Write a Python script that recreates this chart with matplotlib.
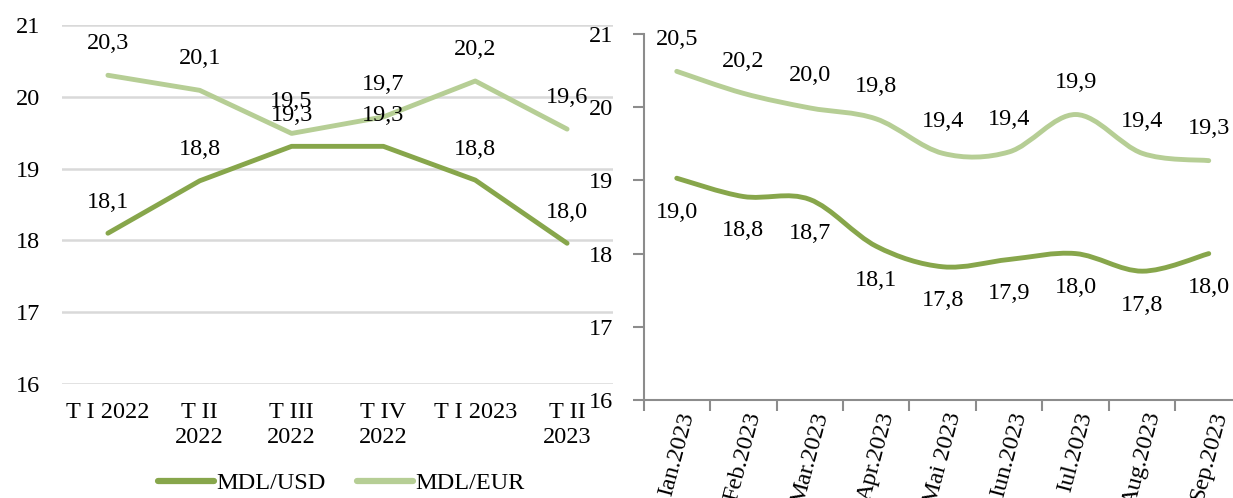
import numpy as np
import matplotlib
matplotlib.use("Agg")
import matplotlib.pyplot as plt
from matplotlib.path import Path
from matplotlib.patches import PathPatch
from matplotlib.lines import Line2D

plt.rcParams['font.family'] = ['Liberation Serif', 'DejaVu Serif']

# quarterly data (left panel)
quarters = ['T I 2022', 'T II\n2022', 'T III\n2022', 'T IV\n2022', 'T I 2023', 'T II\n2023']
usd_q = [18.1, 18.83, 19.31, 19.31, 18.84, 17.96]
eur_q = [20.3, 20.09, 19.49, 19.72, 20.22, 19.55]

# monthly data (right panel)
months = ['Ian.2023', 'Feb.2023', 'Mar.2023', 'Apr.2023', 'Mai 2023',
          'Iun.2023', 'Iul.2023', 'Aug.2023', 'Sep.2023']
usd_m = [19.03, 18.78, 18.74, 18.1, 17.82, 17.92, 18.0, 17.76, 18.0]
eur_m = [20.49, 20.19, 19.99, 19.84, 19.37, 19.39, 19.9, 19.37, 19.27]

C_USD = '#87A64B'
C_EUR = '#B6CE95'
GRID = '#D9D9D9'
AXC = '#8C8C8C'
FS = 17.5

fig = plt.figure(figsize=(12.33, 4.98), dpi=100)


def fmt(v):
    return f'{v:.1f}'.replace('.', ',')


def smooth_path(xs, ys):
    # Excel-like smoothed line through the points (cubic Bezier segments)
    pts = np.column_stack([xs, ys]).astype(float)
    n = len(pts)
    verts = [pts[0]]
    codes = [Path.MOVETO]
    for i in range(n - 1):
        p0 = pts[i - 1] if i > 0 else pts[i]
        p1 = pts[i]
        p2 = pts[i + 1]
        p3 = pts[i + 2] if i + 2 < n else pts[i + 1]
        c1 = p1 + (p2 - p0) / 6.0
        c2 = p2 - (p3 - p1) / 6.0
        verts += [c1, c2, p2]
        codes += [Path.CURVE4] * 3
    return Path(verts, codes)


# ---- left panel ----
ax1 = fig.add_axes([62 / 1233, 1 - 384 / 498, 551 / 1233, 359 / 498])
x = np.arange(len(quarters))
ax1.plot(x, usd_q, color=C_USD, lw=3.5, solid_capstyle='round')
ax1.plot(x, eur_q, color=C_EUR, lw=3.5, solid_capstyle='round')
for xi, v in zip(x, usd_q):
    ax1.annotate(fmt(v), (xi, v), xytext=(0, 31), textcoords='offset pixels',
                 ha='center', va='center', fontsize=FS)
for xi, v in zip(x, eur_q):
    ax1.annotate(fmt(v), (xi, v), xytext=(0, 32), textcoords='offset pixels',
                 ha='center', va='center', fontsize=FS)
ax1.set_xlim(-0.5, len(quarters) - 0.5)
ax1.set_ylim(16, 21)
ax1.set_yticks(range(16, 22))
ax1.set_xticks(x)
ax1.set_xticklabels(quarters, fontsize=FS, linespacing=1.25)
ax1.tick_params(axis='y', length=0, pad=16, labelsize=FS)
ax1.tick_params(axis='x', length=0, pad=13)
ax1.grid(axis='y', color=GRID, lw=1.8)
ax1.set_axisbelow(True)
for s in ax1.spines.values():
    s.set_visible(False)

# legend
handles = [Line2D([], [], color=C_USD, lw=4.5, solid_capstyle='round'),
           Line2D([], [], color=C_EUR, lw=4.5, solid_capstyle='round')]
fig.legend(handles, ['MDL/USD', 'MDL/EUR'], loc='center', bbox_to_anchor=(0.277, 0.03),
           ncol=2, frameon=False, fontsize=FS, handlelength=2.3, handletextpad=0.1,
           columnspacing=1.3, borderpad=0)

# ---- right panel ----
ax2 = fig.add_axes([643.5 / 1233, 1 - 400 / 498, 598.5 / 1233, 366 / 498])
xm = np.arange(len(months))
ax2.add_patch(PathPatch(smooth_path(xm, usd_m), facecolor='none', edgecolor=C_USD,
                        lw=3.5, capstyle='round'))
ax2.add_patch(PathPatch(smooth_path(xm, eur_m), facecolor='none', edgecolor=C_EUR,
                        lw=3.5, capstyle='round'))
for xi, v in zip(xm, eur_m):
    ax2.annotate(fmt(v), (xi, v), xytext=(0, 32), textcoords='offset pixels',
                 ha='center', va='center', fontsize=FS)
for xi, v in zip(xm, usd_m):
    ax2.annotate(fmt(v), (xi, v), xytext=(0, -34), textcoords='offset pixels',
                 ha='center', va='center', fontsize=FS)
ax2.set_xlim(-0.5, len(months) - 0.5)
ax2.set_ylim(16, 21)
ax2.set_yticks(range(16, 22))
ax2.set_xticks(xm)
ax2.set_xticklabels(months, rotation=75, ha='center', fontsize=FS)
ax2.set_xticks(np.arange(len(months) + 1) - 0.5, minor=True)
ax2.tick_params(axis='x', which='major', length=0, pad=7)
ax2.tick_params(axis='x', which='minor', length=8, width=1.5, color=AXC)
ax2.tick_params(axis='y', length=8, width=1.5, color=AXC, pad=14, labelsize=FS)
for s in ['top', 'right']:
    ax2.spines[s].set_visible(False)
for s in ['left', 'bottom']:
    ax2.spines[s].set_color(AXC)
    ax2.spines[s].set_linewidth(1.5)

fig.savefig('out.png', dpi=100)
